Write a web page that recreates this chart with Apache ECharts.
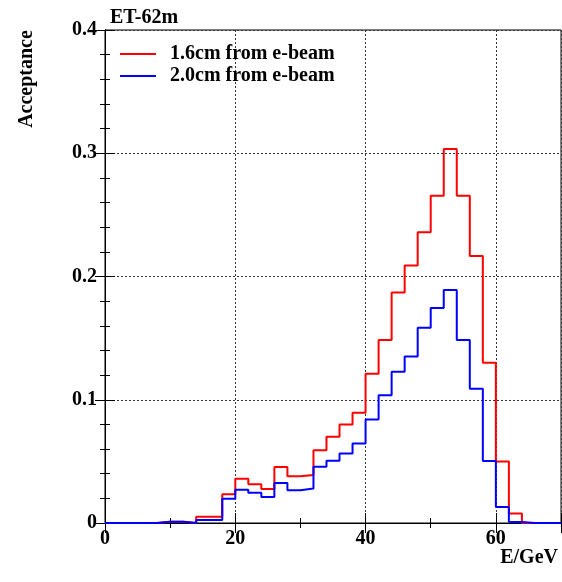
<!DOCTYPE html>
<html>
<head>
<meta charset="utf-8">
<script src="https://cdn.jsdelivr.net/npm/echarts@6/dist/echarts.min.js"></script>
<style>html,body{margin:0;padding:0;background:#fff}#c{width:562px;height:582px}</style>
</head>
<body>
<div id="c"></div>
<script>
// Lower bin edges (GeV), bin width 2 GeV, upper end 70
var binLow = [0,2,4,6,8,10,12,14,16,18,20,22,24,26,28,30,32,34,36,38,40,42,44,46,48,50,52,54,56,58,60,62,64,66,68];
var xMax = 70;
var red16 = [0,0,0,0,0.001,0.001,0,0.005,0.005,0.0233,0.036,0.0314,0.0276,0.0454,0.038,0.039,0.059,0.070,0.080,0.0895,0.121,0.1485,0.187,0.209,0.236,0.2656,0.3035,0.2656,0.2166,0.130,0.050,0.0078,0,0,0];
var blue20 = [0,0,0,0,0.001,0.001,0,0.0025,0.0025,0.0197,0.027,0.0246,0.0211,0.0325,0.0265,0.028,0.0457,0.0505,0.0563,0.0646,0.084,0.1036,0.1228,0.135,0.1585,0.1745,0.189,0.1485,0.109,0.0503,0.0130,0.0008,0,0,0];
var seriesNames = ['1.6cm from e-beam', '2.0cm from e-beam'];
var titleText = 'ET-62m';
var xTitle = 'E/GeV';
var yTitle = 'Acceptance';

function toSteps(vals){
  var pts = [];
  for (var i = 0; i < binLow.length; i++) pts.push([binLow[i], vals[i]]);
  pts.push([xMax, vals[vals.length-1]]);
  return pts;
}
var FONT = '"Liberation Serif", "Times New Roman", serif';
var chart = echarts.init(document.getElementById('c'), null, {renderer:'canvas'});
var gridLine = {show:true, lineStyle:{color:'#333', width:1, type:[2,2]}};
chart.setOption({
  animation:false,
  backgroundColor:'#fff',
  title:{text:titleText, left:105, top:3, textStyle:{fontFamily:FONT, fontWeight:'bold', fontSize:20, color:'#000'}},
  grid:{left:105, right:1, top:30, bottom:59, show:true, borderColor:'#000', borderWidth:1, containLabel:false},
  legend:{
    orient:'vertical', left:115, top:39, itemWidth:36, itemHeight:2, itemGap:2, icon:'rect',
    textStyle:{fontFamily:FONT, fontWeight:'bold', fontSize:20, lineHeight:20, color:'#000', padding:[0,0,0,9]},
    data:seriesNames
  },
  xAxis:[{
    type:'value', min:0, max:xMax, interval:20, position:'bottom',
    axisLine:{lineStyle:{color:'#000', width:1}},
    axisTick:{inside:true, length:10, lineStyle:{color:'#000'}},
    minorTick:{show:true, splitNumber:2, length:5, lineStyle:{color:'#000'}},
    axisLabel:{fontFamily:FONT, fontWeight:'bold', fontSize:20, color:'#000', margin:6, showMaxLabel:false},
    splitLine:gridLine
  },{
    type:'value', min:0, max:xMax, interval:20, position:'top',
    axisLine:{lineStyle:{color:'#000', width:1}},
    axisTick:{inside:true, length:10, lineStyle:{color:'#000'}},
    minorTick:{show:true, splitNumber:2, length:5, lineStyle:{color:'#000'}},
    axisLabel:{show:false}, splitLine:{show:false}
  }],
  yAxis:[{
    type:'value', min:0, max:0.4, interval:0.1, position:'left',
    axisLine:{show:true, lineStyle:{color:'#000', width:1}},
    axisTick:{show:true, inside:true, length:10, lineStyle:{color:'#000'}},
    minorTick:{show:true, splitNumber:5, length:5, lineStyle:{color:'#000'}},
    axisLabel:{fontFamily:FONT, fontWeight:'bold', fontSize:20, color:'#000', margin:8},
    splitLine:gridLine
  },{
    type:'value', min:0, max:0.4, interval:0.1, position:'right',
    axisLine:{show:true, lineStyle:{color:'#000', width:1}},
    axisTick:{show:true, inside:true, length:10, lineStyle:{color:'#000'}},
    minorTick:{show:true, splitNumber:5, length:5, lineStyle:{color:'#000'}},
    axisLabel:{show:false}, splitLine:{show:false}
  }],
  graphic:[
    {type:'text', x:27, y:79, rotation:Math.PI/2, style:{text:yTitle, fontFamily:FONT, fontWeight:'bold', fontSize:20, fill:'#000', align:'center', verticalAlign:'middle'}},
    {type:'text', x:558, y:568, style:{text:xTitle, fontFamily:FONT, fontWeight:'bold', fontSize:20, fill:'#000', align:'right', verticalAlign:'bottom'}}
  ],
  series:[
    {name:seriesNames[0], type:'line', step:'end', data:toSteps(red16), showSymbol:false, symbol:'none',
     itemStyle:{color:'#ff0000'}, lineStyle:{color:'#ff0000', width:2}, z:3},
    {name:seriesNames[1], type:'line', step:'end', data:toSteps(blue20), showSymbol:false, symbol:'none',
     itemStyle:{color:'#0000ff'}, lineStyle:{color:'#0000ff', width:2}, z:4}
  ]
});
</script>
</body>
</html>
